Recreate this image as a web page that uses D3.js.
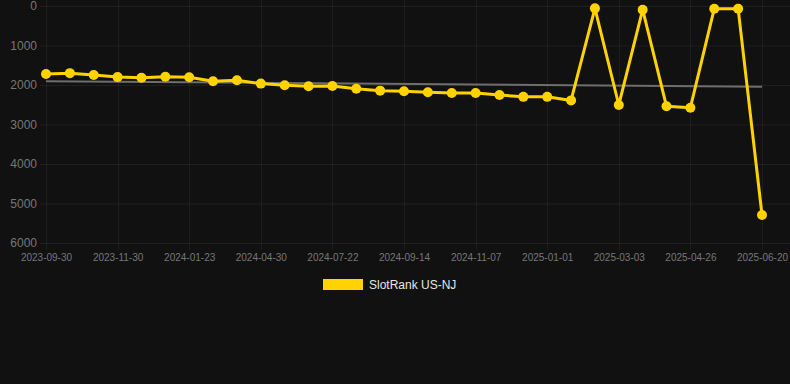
<!DOCTYPE html>
<html>
<head>
    <meta charset="UTF-8">
    <title>SlotRank US-NJ</title>
    <script src="https://cdn.jsdelivr.net/npm/d3@7"></script>
    <style>
        html, body { margin: 0; padding: 0; background: #111111; }
        svg { display: block; font-family: Arial, "Liberation Sans", sans-serif; }
    </style>
</head>
<body>
<div id="chart"></div>
<script>
    // category dates (only every 3rd one is printed on the axis)
    var dates = [
        '2023-09-30', '2023-10-20', '2023-11-10', '2023-11-30', '2023-12-18', '2024-01-05',
        '2024-01-23', '2024-02-25', '2024-03-28', '2024-04-30', '2024-05-28', '2024-06-24',
        '2024-07-22', '2024-08-09', '2024-08-27', '2024-09-14', '2024-10-02', '2024-10-20',
        '2024-11-07', '2024-11-25', '2024-12-13', '2025-01-01', '2025-01-21', '2025-02-10',
        '2025-03-03', '2025-03-21', '2025-04-08', '2025-04-26', '2025-05-14', '2025-06-01',
        '2025-06-20'
    ];
    var ranks = [
        1720, 1700, 1745, 1800, 1815, 1790,
        1805, 1905, 1880, 1965, 2005, 2033,
        2025, 2093, 2143, 2160, 2185, 2203,
        2203, 2253, 2300, 2300, 2390, 60,
        2506, 93, 2540, 2575, 68, 68,
        5290
    ];
    // trend line, first and last value
    var trend = [1905, 2045];
    var yTicks = [0, 1000, 2000, 3000, 4000, 5000, 6000];
    var seriesName = 'SlotRank US-NJ';

    var width = 790, height = 384;
    var svg = d3.select('#chart').append('svg')
            .attr('width', width)
            .attr('height', height);

    var x = d3.scalePoint().domain(dates).range([46, 762]);
    var y = d3.scaleLinear().domain([0, 6000]).range([6, 243]);

    var shownDates = dates.filter(function(d, i) { return i % 3 === 0; });

    // grid
    svg.append('g').selectAll('line.h')
            .data(yTicks).enter().append('line')
            .attr('x1', 40).attr('x2', width)
            .attr('y1', function(d) { return y(d) + 0.5; })
            .attr('y2', function(d) { return y(d) + 0.5; })
            .attr('stroke', d3.rgb(255, 255, 255, 0.06));
    svg.append('g').selectAll('line.v')
            .data(shownDates).enter().append('line')
            .attr('x1', function(d) { return Math.round(x(d)) + 0.5; })
            .attr('x2', function(d) { return Math.round(x(d)) + 0.5; })
            .attr('y1', 0).attr('y2', 250)
            .attr('stroke', d3.rgb(255, 255, 255, 0.05));

    // axes
    var yAxis = svg.append('g')
            .attr('transform', 'translate(37,0)')
            .call(d3.axisLeft(y).tickValues(yTicks).tickSize(0).tickPadding(0).tickFormat(d3.format('d')));
    yAxis.select('.domain').remove();
    yAxis.selectAll('text').attr('fill', '#777').style('font-size', '12px');

    var xAxis = svg.append('g')
            .attr('transform', 'translate(0,250)')
            .call(d3.axisBottom(x).tickValues(shownDates).tickSize(0).tickPadding(4));
    xAxis.select('.domain').remove();
    xAxis.selectAll('text').attr('fill', '#777').style('font-size', '10px');

    // trend
    svg.append('line')
            .attr('x1', x(dates[0])).attr('x2', x(dates[dates.length - 1]))
            .attr('y1', y(trend[0])).attr('y2', y(trend[1]))
            .attr('stroke', '#6e6e6e')
            .attr('stroke-width', 2);

    // series
    var line = d3.line()
            .x(function(d, i) { return x(dates[i]); })
            .y(function(d) { return y(d); });
    svg.append('path')
            .datum(ranks)
            .attr('d', line)
            .attr('fill', 'none')
            .attr('stroke', '#ffd200')
            .attr('stroke-width', 3)
            .attr('stroke-linejoin', 'round');
    svg.append('g').selectAll('circle')
            .data(ranks).enter().append('circle')
            .attr('cx', function(d, i) { return x(dates[i]); })
            .attr('cy', function(d) { return y(d); })
            .attr('r', 5)
            .attr('fill', '#ffd200');

    // legend
    var legend = svg.append('g').attr('transform', 'translate(323,279)');
    legend.append('rect')
            .attr('width', 40).attr('height', 11)
            .attr('fill', '#ffd200');
    legend.append('text')
            .attr('x', 46).attr('y', 6)
            .attr('dy', '0.35em')
            .attr('fill', '#e6e6e6')
            .style('font-size', '12px')
            .text(seriesName);
</script>
</body>
</html>
